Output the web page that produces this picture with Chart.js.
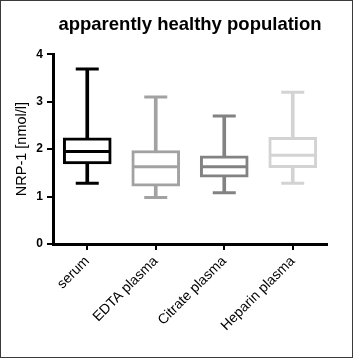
<!DOCTYPE html>
<html>
<head>
<meta charset="utf-8">
<script src="https://cdn.jsdelivr.net/npm/chart.js@4.4.1/dist/chart.umd.min.js"></script>
<style>
  html, body { margin: 0; padding: 0; background: #fff; }
  #wrap { width: 351px; height: 356px; border: 1px solid #3a3a3a; }
  canvas { display: block; }
</style>
</head>
<body>
<div id="wrap"><canvas id="box-chart" width="351" height="356"></canvas></div>
<script>
// categories and box plot values (min, Q1, median, Q3, max)
const categories = ["serum", "EDTA plasma", "Citrate plasma", "Heparin plasma"];
const minVals    = [1.28, 0.98, 1.08, 1.28];
const q1Vals     = [1.69, 1.22, 1.41, 1.61];
const medianVals = [1.95, 1.63, 1.63, 1.87];
const q3Vals     = [2.24, 1.97, 1.86, 2.25];
const maxVals    = [3.69, 3.10, 2.70, 3.20];
const yTicks     = [0, 1, 2, 3, 4];

const colors = ["#000000", "#a2a2a2", "#828282", "#d3d3d3"];
const font = "'Liberation Sans', Arial, sans-serif";

Chart.defaults.font.family = font;
Chart.defaults.color = "#000";

new Chart(document.getElementById("box-chart"), {
  type: 'bar',
  data: {
    labels: categories,
    datasets: [
      { // whisker stems, min..max behind the box
        label: "whisker",
        data: categories.map((c, i) => [minVals[i], maxVals[i]]),
        backgroundColor: colors,
        barThickness: 3,
        grouped: false,
        order: 4
      },
      { // boxes Q1..Q3
        label: "box",
        data: categories.map((c, i) => [q1Vals[i], q3Vals[i]]),
        backgroundColor: "#ffffff",
        borderColor: colors,
        borderWidth: 3,
        borderSkipped: false,
        barThickness: 48,
        grouped: false,
        order: 3
      },
      { // median line
        type: 'line',
        label: "median",
        data: medianVals,
        showLine: false,
        pointStyle: 'line',
        pointRadius: 22,
        pointHoverRadius: 22,
        borderWidth: 3,
        pointBorderColor: colors,
        borderColor: colors,
        order: 0
      },
      { // lower caps
        type: 'line',
        label: "min",
        data: minVals,
        showLine: false,
        pointStyle: 'line',
        pointRadius: 11.5,
        pointHoverRadius: 11.5,
        borderWidth: 3,
        pointBorderColor: colors,
        borderColor: colors,
        order: 1
      },
      { // upper caps
        type: 'line',
        label: "max",
        data: maxVals,
        showLine: false,
        pointStyle: 'line',
        pointRadius: 11.5,
        pointHoverRadius: 11.5,
        borderWidth: 3,
        pointBorderColor: colors,
        borderColor: colors,
        order: 1
      }
    ]
  },
  options: {
    responsive: false,
    animation: false,
    layout: { padding: { left: 0, right: 10, top: 0, bottom: 0 } },
    plugins: {
      legend: { display: false },
      tooltip: { enabled: false },
      title: {
        display: true,
        fullSize: false, // centre over the plot area like the original
        text: "apparently healthy population",
        color: "#000",
        font: { size: 18.5, weight: 'bold', family: font },
        padding: { top: 13, bottom: 18 }
      }
    },
    scales: {
      x: {
        offset: true,
        border: { width: 3, color: "#000" },
        grid: { offset: false, drawOnChartArea: false, drawTicks: true, tickLength: 6, lineWidth: 2, color: "#000" },
        ticks: {
          minRotation: 45,
          maxRotation: 45,
          padding: 3,
          color: "#000",
          font: { size: 14, family: font }
        },
        afterFit: (scale) => { scale.height = 113; }
      },
      y: {
        min: 0,
        max: 4,
        border: { width: 3, color: "#000" },
        grid: { drawOnChartArea: false, drawTicks: true, tickLength: 6, lineWidth: 2, color: "#000" },
        afterBuildTicks: (scale) => { scale.ticks = yTicks.map(v => ({ value: v })); },
        ticks: {
          padding: 4,
          color: "#000",
          font: { size: 12, weight: 'bold', family: font }
        },
        title: {
          display: true,
          text: "NRP-1 [nmol/l]",
          color: "#000",
          font: { size: 14.5, family: font },
          padding: { top: 12, bottom: 0 }
        },
        afterFit: (scale) => { scale.width = 52; }
      }
    }
  }
});
</script>
</body>
</html>
